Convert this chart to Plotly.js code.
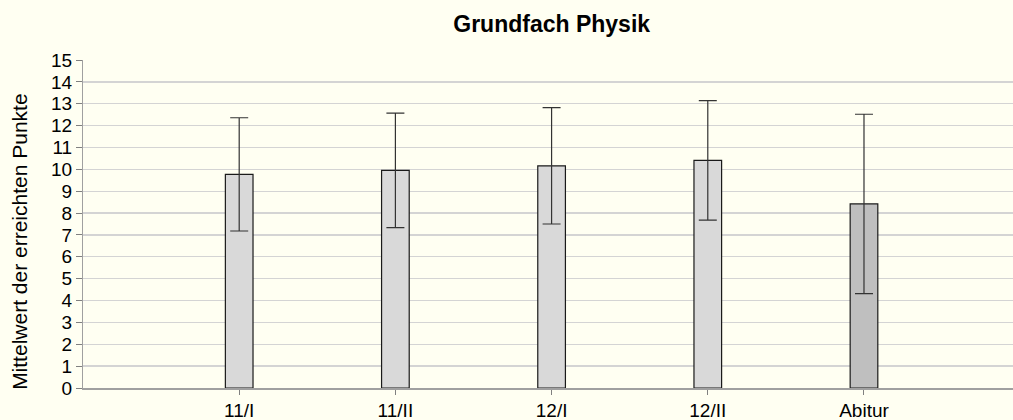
<!DOCTYPE html>
<html>
<head>
<meta charset="utf-8">
<script src="https://cdn.plot.ly/plotly-3.0.1.min.js"></script>
<style>
  html, body { margin: 0; padding: 0; background: #FFFFF2; }
  #chart { width: 1013px; height: 420px; }
</style>
</head>
<body>
<div id="chart"></div>
<script>
const kategorien = ['11/I', '11/II', '12/I', '12/II', 'Abitur'];
const mittelwerte = [9.77, 9.95, 10.16, 10.41, 8.42];
const streuung = [2.59, 2.62, 2.66, 2.73, 4.1];
const balkenfarben = ['#D9D9D9', '#D9D9D9', '#D9D9D9', '#D9D9D9', '#BFBFBF'];

const balken = {
  x: kategorien,
  y: mittelwerte,
  type: 'bar',
  width: 0.177,
  marker: {
    color: balkenfarben,
    line: { color: '#1a1a1a', width: 1.2 }
  },
  error_y: {
    type: 'data',
    array: streuung,
    visible: true,
    color: '#333333',
    thickness: 1.2,
    width: 9
  },
  hoverinfo: 'skip'
};

const schrift = '"Liberation Sans", Arial, sans-serif';
const achsenfont = { family: schrift, size: 19, color: '#000000' };

const layout = {
  width: 1013,
  height: 420,
  paper_bgcolor: '#FFFFF2',
  plot_bgcolor: '#FFFFF2',
  showlegend: false,
  margin: { l: 83, r: 0, t: 60, b: 32 },
  title: {
    text: '<b>Grundfach Physik</b>',
    font: { family: schrift, size: 23, color: '#000000' },
    x: 0.5446,
    xanchor: 'center',
    y: 0.943,
    yanchor: 'middle'
  },
  xaxis: {
    type: 'category',
    categoryorder: 'array',
    categoryarray: kategorien,
    range: [-1, 4.954],
    showgrid: false,
    showline: true,
    linecolor: '#A0A0A0',
    linewidth: 1.5,
    ticks: 'outside',
    ticklen: 5,
    tickcolor: '#808080',
    tickfont: achsenfont,
    zeroline: false
  },
  yaxis: {
    range: [0, 15],
    dtick: 1,
    tick0: 0,
    showgrid: true,
    gridcolor: '#D4D4D4',
    gridwidth: 1.3,
    showline: true,
    linecolor: '#A0A0A0',
    linewidth: 1,
    ticks: 'outside',
    ticklen: 6,
    tickcolor: '#808080',
    tickfont: achsenfont,
    zeroline: false
  },
  annotations: [{
    text: 'Mittelwert der erreichten Punkte',
    textangle: -90,
    xref: 'paper',
    yref: 'paper',
    x: -0.069,
    y: 0.445,
    xanchor: 'center',
    yanchor: 'middle',
    showarrow: false,
    font: { family: schrift, size: 21, color: '#000000' }
  }]
};

Plotly.newPlot('chart', [balken], layout, { displayModeBar: false, staticPlot: true });
</script>
</body>
</html>
